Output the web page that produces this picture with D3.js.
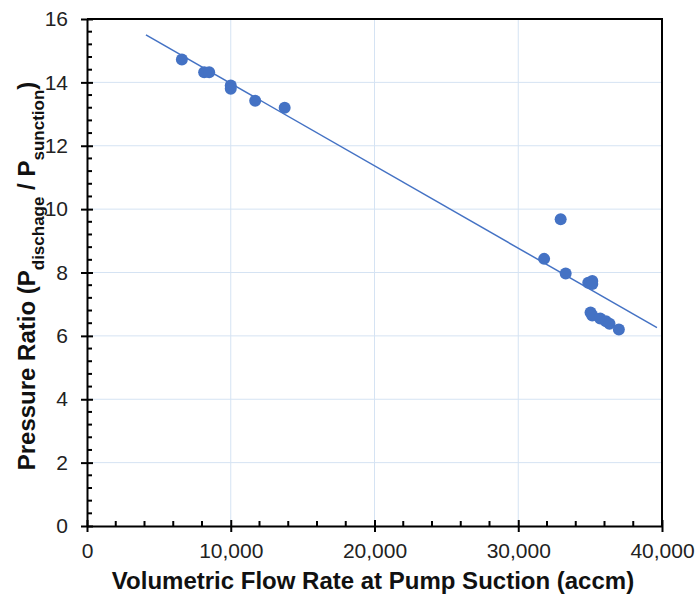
<!DOCTYPE html>
<html>
<head>
<meta charset="utf-8">
<script src="https://cdn.jsdelivr.net/npm/d3@7"></script>
<style>
  body { margin: 0; background: #fff; }
  text { font-family: "Liberation Sans", Arial, sans-serif; }
</style>
</head>
<body>
<svg id="chart" width="699" height="595"></svg>
<script>
// flow rate (accm) and pressure ratio
var flowRate = [6600, 8150, 8500, 10000, 10000, 11700, 13750,
    31800, 32950, 33300, 34870, 35150, 35150, 35030, 35150, 35700, 36100, 36350, 37000]
var pressureRatio = [14.72, 14.32, 14.32, 13.9, 13.8, 13.42, 13.2,
    8.43, 9.68, 7.97, 7.68, 7.73, 7.64, 6.74, 6.64, 6.55, 6.46, 6.38, 6.2]

// linear trendline end points
var trendX = [4100, 39650]
var trendY = [15.5, 6.26]

var xTicks = [0, 10000, 20000, 30000, 40000]
var yTicks = [0, 2, 4, 6, 8, 10, 12, 14, 16]

var blue = '#4472c4'
var gridColor = '#d5e3f3'

var svg = d3.select('#chart')
var pLeft = 87, pRight = 662, pTop = 19, pBottom = 526

var x = d3.scaleLinear().domain([0, 40000]).range([pLeft, pRight])
var y = d3.scaleLinear().domain([0, 16]).range([pBottom, pTop])

// gridlines
svg.append('g')
    .selectAll('line')
    .data(xTicks.slice(1, -1))
    .enter().append('line')
    .attr('x1', d => x(d)).attr('x2', d => x(d))
    .attr('y1', pTop).attr('y2', pBottom)
    .style('stroke', gridColor)
    .style('stroke-width', 1)

svg.append('g')
    .selectAll('line')
    .data(yTicks.slice(1, -1))
    .enter().append('line')
    .attr('x1', pLeft).attr('x2', pRight)
    .attr('y1', d => y(d)).attr('y2', d => y(d))
    .style('stroke', gridColor)
    .style('stroke-width', 1)

// box on top and right
svg.append('path')
    .attr('d', `M${pLeft},${pTop}H${pRight}V${pBottom}`)
    .style('fill', 'none')
    .style('stroke', '#000')
    .style('stroke-width', 2)

// minor ticks (inside only)
var xMinor = d3.range(0, 40001, 2000).filter(v => v % 10000 != 0)
var yMinor = d3.range(0, 16.01, 0.4).filter(v => Math.abs(v / 2 - Math.round(v / 2)) > 0.01)

var xAxis = svg.append('g')
    .attr('transform', `translate(0,${pBottom})`)
    .call(d3.axisBottom(x).tickValues(xTicks).tickSize(6).tickSizeOuter(0)
        .tickFormat(d3.format(',')))
xAxis.select('.domain').style('stroke-width', 2)
xAxis.selectAll('.tick line').attr('y1', -6).style('stroke-width', 2)
xAxis.selectAll('.tick text')
    .attr('y', 32).attr('dy', 0)
    .style('font-size', '21px').style('fill', '#222')

var yAxis = svg.append('g')
    .attr('transform', `translate(${pLeft},0)`)
    .call(d3.axisLeft(y).tickValues(yTicks).tickSize(6).tickSizeOuter(0).tickPadding(13))
yAxis.select('.domain').style('stroke-width', 2)
yAxis.selectAll('.tick line').attr('x1', 6).style('stroke-width', 2)
yAxis.selectAll('.tick text').style('font-size', '21px').style('fill', '#222')

svg.append('g')
    .selectAll('line')
    .data(xMinor)
    .enter().append('line')
    .attr('x1', d => x(d)).attr('x2', d => x(d))
    .attr('y1', pBottom).attr('y2', pBottom - 5)
    .style('stroke', '#000')
    .style('stroke-width', 2)

svg.append('g')
    .selectAll('line')
    .data(yMinor)
    .enter().append('line')
    .attr('x1', pLeft).attr('x2', pLeft + 5)
    .attr('y1', d => y(d)).attr('y2', d => y(d))
    .style('stroke', '#000')
    .style('stroke-width', 2)

// trendline
svg.append('line')
    .attr('x1', x(trendX[0])).attr('y1', y(trendY[0]))
    .attr('x2', x(trendX[1])).attr('y2', y(trendY[1]))
    .style('stroke', blue)
    .style('stroke-width', 1.5)

// points
svg.append('g')
    .selectAll('circle')
    .data(d3.zip(flowRate, pressureRatio))
    .enter().append('circle')
    .attr('cx', d => x(d[0]))
    .attr('cy', d => y(d[1]))
    .attr('r', 6)
    .style('fill', blue)

// axis titles
svg.append('text')
    .attr('x', 373)
    .attr('y', 589)
    .attr('text-anchor', 'middle')
    .style('font-size', '24px')
    .style('font-weight', 'bold')
    .style('fill', '#111')
    .text('Volumetric Flow Rate at Pump Suction (accm)')

var yTitle = svg.append('text')
    .attr('transform', `translate(35,276) rotate(-90)`)
    .attr('text-anchor', 'middle')
    .style('font-size', '24px')
    .style('font-weight', 'bold')
    .style('fill', '#111')
yTitle.append('tspan').text('Pressure Ratio (P')
yTitle.append('tspan').attr('dy', 9).style('font-size', '17px').text('dischage')
yTitle.append('tspan').attr('dy', -9).text(' / P')
yTitle.append('tspan').attr('dy', 9).style('font-size', '17px').text('sunction')
yTitle.append('tspan').attr('dy', -9).text(')')
</script>
</body>
</html>
